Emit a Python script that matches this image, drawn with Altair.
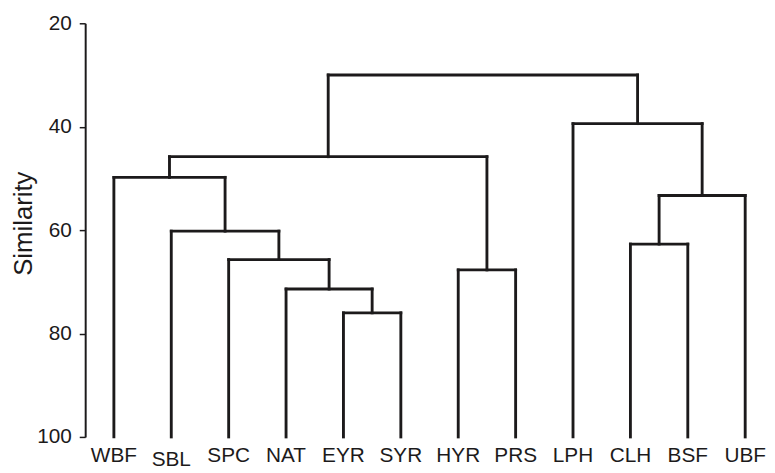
import altair as alt
import pandas as pd

# Leaves in display order
leaves = ["WBF", "SBL", "SPC", "NAT", "EYR", "SYR", "HYR", "PRS", "LPH", "CLH", "BSF", "UBF"]
# Merges (scipy-style node ids: leaves 0..11, merges 12..)
merge_a = [4, 3, 2, 1, 0, 6, 16, 9, 19, 8, 18]
merge_b = [5, 12, 13, 14, 15, 7, 17, 10, 11, 20, 21]
merge_h = [76.0, 71.4, 65.7, 60.2, 49.8, 67.7, 45.8, 62.7, 53.3, 39.4, 30.0]
leaf_height = 100.0
y_ticks = [20, 40, 60, 80, 100]

# Build dendrogram segments in data coordinates
xpos = {i: float(i) for i in range(len(leaves))}
hgt = {i: leaf_height for i in range(len(leaves))}
segs = []
for k, (a, b, h) in enumerate(zip(merge_a, merge_b, merge_h)):
    nid = len(leaves) + k
    for c in (a, b):
        segs.append({"x": xpos[c], "x2": xpos[c], "y": hgt[c], "y2": h})
    segs.append({"x": xpos[a], "x2": xpos[b], "y": h, "y2": h})
    xpos[nid] = (xpos[a] + xpos[b]) / 2
    hgt[nid] = h
seg_df = pd.DataFrame(segs)

lab_df = pd.DataFrame({"name": leaves, "idx": list(range(len(leaves))), "base": [leaf_height] * len(leaves)})

FONT = "Liberation Sans"
INK = "#1c1a1b"

xscale = alt.Scale(domain=[-0.5, 11.38], nice=False, zero=False)
yscale = alt.Scale(domain=[20, 100], reverse=True, nice=False, zero=False)

lines = alt.Chart(seg_df).mark_rule(color=INK, strokeWidth=2.9, strokeCap="square").encode(
    x=alt.X("x:Q", scale=xscale, axis=None),
    x2="x2:Q",
    y=alt.Y("y:Q", scale=yscale,
            axis=alt.Axis(values=y_ticks, title="Similarity", grid=False,
                          domainColor=INK, domainWidth=2, tickColor=INK, tickWidth=1.5,
                          tickSize=6, labelFont=FONT, labelFontSize=21, labelColor=INK,
                          labelPadding=8, titleFont=FONT, titleFontSize=26,
                          titleFontWeight="normal", titleColor=INK, titleAngle=-90,
                          titleX=-54, titleY=202, titleAlign="center",
                          titleBaseline="alphabetic")),
    y2="y2:Q",
)

labels_main = alt.Chart(lab_df).transform_filter(alt.datum.name != "SBL").mark_text(
    font=FONT, fontSize=21, color=INK, baseline="alphabetic", align="center", dy=25
).encode(x=alt.X("idx:Q", scale=xscale), y=alt.Y("base:Q", scale=yscale), text="name:N")

labels_low = alt.Chart(lab_df).transform_filter(alt.datum.name == "SBL").mark_text(
    font=FONT, fontSize=21, color=INK, baseline="alphabetic", align="center", dy=29
).encode(x=alt.X("idx:Q", scale=xscale), y=alt.Y("base:Q", scale=yscale), text="name:N")

chart = alt.layer(lines, labels_main, labels_low).properties(
    width=689, height=418,
    autosize=alt.AutoSizeParams(type="none"),
    padding={"left": 78, "top": 13, "right": 0, "bottom": 34},
    background="white",
).configure_view(stroke=None)

chart.save("out.html", embed_options={"renderer": "svg", "actions": False})
